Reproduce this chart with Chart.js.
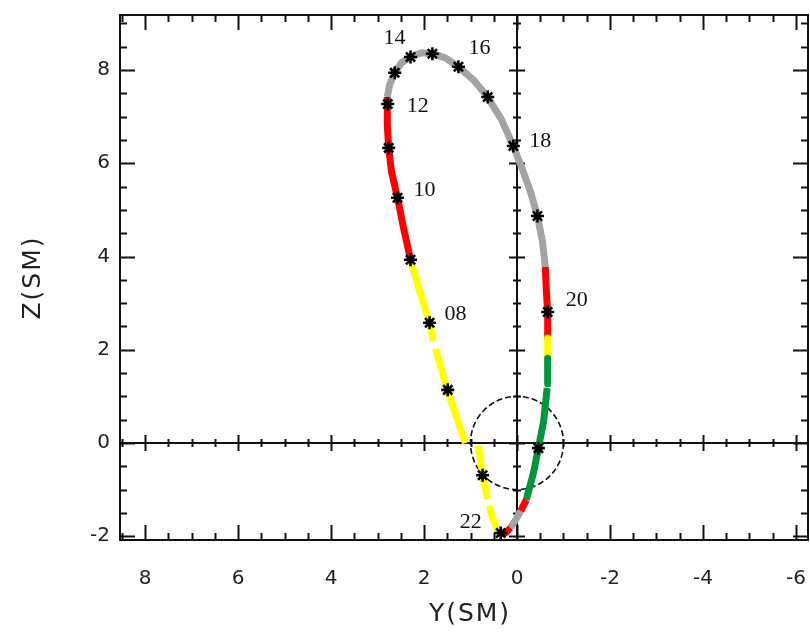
<!DOCTYPE html>
<html>
<head>
<meta charset="utf-8">
<title>Orbit Y-Z (SM)</title>
<script src="https://cdn.jsdelivr.net/npm/chart.js@4.4.1/dist/chart.umd.min.js"></script>
<style>
  html, body { margin: 0; padding: 0; background: #ffffff; }
  canvas { display: block; }
</style>
</head>
<body>
<canvas id="orbit" width="810" height="632"></canvas>
<script>
// Spacecraft track in the SM frame: Y (plotted right-to-left) against Z, Earth radii.
// null entries are breaks in the track.
const trackY = [0.38, 0.53, 0.59, null, 0.63, 0.74, 0.83, null,
  1.11, 1.30, 1.50, 1.67, 1.75, null, 1.80, 1.88, 2.10, 2.29,
  2.44, 2.57, 2.70, 2.76, 2.79, 2.79, 2.79,
  2.74, 2.63, 2.48, 2.29, 2.05, 1.82, 1.54, 1.26, 0.94, 0.63, 0.33, 0.08, -0.12, -0.29, -0.44, -0.55, -0.61,
  -0.63, -0.66, -0.66, -0.66, -0.66, null, -0.65, -0.57, -0.46, -0.36, -0.20,
  -0.08, 0.03, 0.14, 0.25, 0.36];
const trackZ = [-1.93, -1.61, -1.35, null, -1.20, -0.69, -0.06, null,
  0.00, 0.56, 1.14, 1.74, 2.02, null, 2.19, 2.58, 3.28, 3.93,
  4.61, 5.26, 5.82, 6.33, 6.82, 7.27, 7.42,
  7.68, 7.94, 8.16, 8.28, 8.37, 8.35, 8.26, 8.07, 7.79, 7.42, 6.93, 6.37, 5.86, 5.39, 4.87, 4.31, 3.78,
  3.28, 2.81, 2.25, 1.82, 1.27, null, 1.18, 0.45, -0.11, -0.62, -1.22,
  -1.46, -1.65, -1.82, -1.93, -1.93];
// Status of the track from each point to the next one.
const trackState = ['yellow', 'yellow', 'yellow', 'yellow', 'yellow', 'yellow', 'yellow', 'yellow',
  'yellow', 'yellow', 'yellow', 'yellow', 'yellow', 'yellow', 'yellow', 'yellow', 'yellow', 'red',
  'red', 'red', 'red', 'red', 'red', 'red', 'gray',
  'gray', 'gray', 'gray', 'gray', 'gray', 'gray', 'gray', 'gray', 'gray', 'gray', 'gray', 'gray', 'gray', 'gray', 'gray', 'gray', 'red',
  'red', 'red', 'yellow', 'green', 'green', 'green', 'green', 'green', 'green', 'green', 'red',
  'gray', 'gray', 'red', 'red', 'red'];

// Hourly position marks (UT hour) along the track.
const markHour = [6, 7, 8, 9, 10, 11, 12, 13, 14, 15, 16, 17, 18, 19, 20, 21, 22];
const markY = [0.74, 1.49, 1.88, 2.29, 2.57, 2.76, 2.78, 2.63, 2.29, 1.82, 1.26, 0.63, 0.08, -0.44, -0.66, -0.46, 0.35];
const markZ = [-0.69, 1.14, 2.58, 3.93, 5.26, 6.33, 7.27, 7.94, 8.28, 8.35, 8.07, 7.42, 6.37, 4.87, 2.81, -0.11, -1.93];
const labelledHours = [8, 10, 12, 14, 16, 18, 20, 22];

// Axis tick labels.
const yTickValues = [8, 6, 4, 2, 0, -2, -4, -6];
const zTickValues = [-2, 0, 2, 4, 6, 8];

// ---- styling ----
const stateColor = { yellow: '#ffff00', red: '#ff0000', gray: '#a3a3a3', green: '#00973c' };
// pixel offset of each hour label from its mark
const hourLabelOffset = {
  8: [26, -9], 10: [27, -8], 12: [30, 2], 14: [-16, -19],
  16: [21, -19], 18: [27, -5], 20: [29, -12], 22: [-30, -11]
};
const INK = '#111111';
const tickFont = { family: 'DejaVu Sans', size: 20 };

const trackPoints = trackY.map((v, i) => ({ x: v, y: trackZ[i] }));
const markPoints = markY.map((v, i) => ({ x: v, y: markZ[i] }));

// Frame, inward ticks, axes through the origin and the dashed Earth circle.
const framePlugin = {
  id: 'orbitFrame',
  beforeDatasetsDraw(chart) {
    const { ctx, chartArea: a, scales: { x, y } } = chart;
    const x0 = x.getPixelForValue(0);
    const y0 = y.getPixelForValue(0);
    ctx.save();

    // Earth, radius 1
    ctx.beginPath();
    ctx.setLineDash([6, 3]);
    ctx.lineWidth = 1.6;
    ctx.strokeStyle = INK;
    ctx.ellipse(x0, y0,
      Math.abs(x.getPixelForValue(1) - x0),
      Math.abs(y.getPixelForValue(1) - y0), 0, 0, Math.PI * 2);
    ctx.stroke();
    ctx.setLineDash([]);

    ctx.strokeStyle = INK;
    ctx.lineWidth = 2;
    ctx.beginPath();
    // axes through the origin
    ctx.moveTo(a.left, y0); ctx.lineTo(a.right, y0);
    ctx.moveTo(x0, a.top); ctx.lineTo(x0, a.bottom);

    const step = 0.5;
    const isMajor = v => Math.abs(v / 2 - Math.round(v / 2)) < 1e-6;
    // ticks along Y
    for (let v = Math.ceil(x.min / step) * step; v <= x.max + 1e-9; v += step) {
      const px = Math.round(x.getPixelForValue(v)) + 0.5;
      const len = isMajor(v) ? 15 : 7;
      const half = isMajor(v) ? 8 : 4;
      ctx.moveTo(px, a.top); ctx.lineTo(px, a.top + len);
      ctx.moveTo(px, a.bottom); ctx.lineTo(px, a.bottom - len);
      ctx.moveTo(px, y0 - half); ctx.lineTo(px, y0 + half);
    }
    // ticks along Z
    for (let v = Math.ceil(y.min / step) * step; v <= y.max + 1e-9; v += step) {
      const py = Math.round(y.getPixelForValue(v)) + 0.5;
      const len = isMajor(v) ? 15 : 7;
      const half = isMajor(v) ? 8 : 4;
      ctx.moveTo(a.left, py); ctx.lineTo(a.left + len, py);
      ctx.moveTo(a.right, py); ctx.lineTo(a.right - len, py);
      ctx.moveTo(x0 - half, py); ctx.lineTo(x0 + half, py);
    }
    ctx.stroke();

    // plot frame
    ctx.strokeRect(a.left, a.top, a.right - a.left, a.bottom - a.top);
    ctx.restore();
  },
  afterDatasetsDraw(chart) {
    const { ctx, scales: { x, y } } = chart;
    ctx.save();
    ctx.fillStyle = INK;
    ctx.font = '22px "Liberation Serif"';
    ctx.textAlign = 'center';
    ctx.textBaseline = 'middle';
    labelledHours.forEach(h => {
      const i = markHour.indexOf(h);
      const off = hourLabelOffset[h];
      const text = String(h).padStart(2, '0');
      ctx.fillText(text, x.getPixelForValue(markY[i]) + off[0], y.getPixelForValue(markZ[i]) + off[1]);
    });
    ctx.restore();
  },
  afterDraw(chart) {
    const { ctx, chartArea: a } = chart;
    ctx.save();
    ctx.fillStyle = '#222222';
    ctx.font = '25px "DejaVu Sans"';
    ctx.textAlign = 'center';
    ctx.textBaseline = 'middle';
    if ('letterSpacing' in ctx) ctx.letterSpacing = '2px';
    ctx.fillText('Y(SM)', (a.left + a.right) / 2 + 6, 614);
    ctx.translate(33, (a.top + a.bottom) / 2);
    ctx.rotate(-Math.PI / 2);
    ctx.fillText('Z(SM)', 0, 0);
    ctx.restore();
  }
};

new Chart(document.getElementById('orbit'), {
  type: 'scatter',
  data: {
    datasets: [
      {
        label: 'hourly marks',
        data: markPoints,
        pointStyle: 'star',
        pointRadius: 6.5,
        pointBorderWidth: 2.6,
        pointBorderColor: '#000000',
        pointBackgroundColor: '#000000',
        showLine: false
      },
      {
        label: 'track',
        data: trackPoints,
        showLine: true,
        spanGaps: false,
        pointRadius: 0,
        borderWidth: 7,
        borderCapStyle: 'butt',
        borderJoinStyle: 'round',
        borderColor: stateColor.gray,
        segment: {
          borderColor: c => stateColor[trackState[c.p0DataIndex]]
        }
      }
    ]
  },
  options: {
    responsive: false,
    devicePixelRatio: 1,
    animation: false,
    events: [],
    layout: { autoPadding: false, padding: { left: 0, right: 2, top: 15, bottom: 0 } },
    plugins: { legend: { display: false }, tooltip: { enabled: false } },
    scales: {
      x: {
        type: 'linear',
        reverse: true,
        min: -6.26,
        max: 8.54,
        afterBuildTicks: s => { s.ticks = yTickValues.map(v => ({ value: v })); },
        afterFit: s => { s.height = 92; s.paddingLeft = 0; s.paddingRight = 0; },
        grid: { display: false, drawTicks: false },
        border: { display: false },
        ticks: { font: tickFont, color: '#222222', padding: 27, maxRotation: 0, autoSkip: false }
      },
      y: {
        type: 'linear',
        min: -2.08,
        max: 9.18,
        afterBuildTicks: s => { s.ticks = zTickValues.map(v => ({ value: v })); },
        afterFit: s => { s.width = 120; s.paddingTop = 0; s.paddingBottom = 0; },
        grid: { display: false, drawTicks: false },
        border: { display: false },
        ticks: { font: tickFont, color: '#222222', padding: 10, autoSkip: false }
      }
    }
  },
  plugins: [framePlugin]
});
</script>
</body>
</html>
